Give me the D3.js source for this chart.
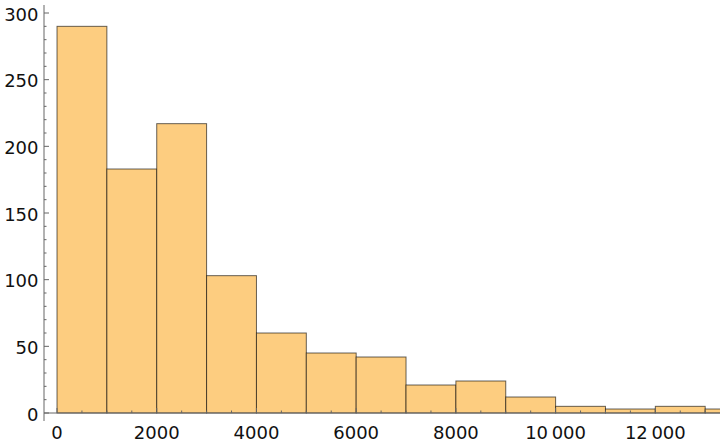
<!DOCTYPE html>
<html><head><meta charset="utf-8">
<script src="https://cdn.jsdelivr.net/npm/d3@7/dist/d3.min.js"></script>
<style>body{margin:0;background:#fff}svg{display:block}</style>
</head><body>
<script>
const binStarts = [0,1000,2000,3000,4000,5000,6000,7000,8000,9000,10000,11000,12000,13000];
const binWidth = 1000;
const counts = [290,183,217,103,60,45,42,21,24,12,5,3,5,3];
const xTickValues = [0,2000,4000,6000,8000,10000,12000];
const xTickLabels = ["0","2000","4000","6000","8000","10\u2009000","12\u2009000"];
const yTickValues = [0,50,100,150,200,250,300];
const yTickLabels = ["0","50","100","150","200","250","300"];

const W = 720, H = 444;
const svg = d3.select("body").append("svg").attr("width", W).attr("height", H);
const x = d3.scaleLinear().domain([-261, 13297]).range([44, 720]);
const y = d3.scaleLinear().domain([-6, 306]).range([421, 5]);

svg.append("clipPath").attr("id","clip").append("rect")
  .attr("x",44).attr("y",0).attr("width",676).attr("height",H);

const data = binStarts.map((s,i)=>({x0:s,x1:s+binWidth,c:counts[i]}));
svg.append("g").attr("clip-path","url(#clip)")
  .selectAll("rect").data(data).join("rect")
  .attr("x", d=>x(d.x0)).attr("width", d=>x(d.x1)-x(d.x0))
  .attr("y", d=>y(d.c)).attr("height", d=>y(0)-y(d.c))
  .attr("fill","#FDCD80")
  .attr("stroke","#000").attr("stroke-opacity",0.6).attr("stroke-width",1);

const axisColor = "#666";
// x axis
const gx = svg.append("g").attr("transform",`translate(0,${y(0)})`);
gx.append("line").attr("x1",44).attr("x2",720).attr("stroke",axisColor);
const xMinor = d3.range(500, 13300, 500).filter(v=>v%2000!==0);
gx.selectAll(".xm").data(xMinor).join("line")
  .attr("x1",d=>x(d)).attr("x2",d=>x(d)).attr("y1",0).attr("y2",-2.5).attr("stroke",axisColor);
gx.selectAll(".xM").data(xTickValues).join("line")
  .attr("x1",d=>x(d)).attr("x2",d=>x(d)).attr("y1",0).attr("y2",-5).attr("stroke",axisColor);
gx.selectAll("text").data(xTickValues).join("text")
  .attr("x",d=>x(d)).attr("y",26).attr("text-anchor","middle")
  .attr("font-family","DejaVu Sans").attr("font-size",18).attr("fill","#111")
  .text((d,i)=>xTickLabels[i]);

// y axis
const gy = svg.append("g").attr("transform",`translate(44,0)`);
gy.append("line").attr("y1",5).attr("y2",421).attr("stroke",axisColor);
const yMinor = d3.range(-0, 306, 10).filter(v=>v%50!==0);
gy.selectAll(".ym").data(yMinor).join("line")
  .attr("y1",d=>y(d)).attr("y2",d=>y(d)).attr("x1",0).attr("x2",2.5).attr("stroke",axisColor);
gy.selectAll(".yM").data(yTickValues).join("line")
  .attr("y1",d=>y(d)).attr("y2",d=>y(d)).attr("x1",0).attr("x2",5).attr("stroke",axisColor);
gy.selectAll("text").data(yTickValues).join("text")
  .attr("x",-5.5).attr("y",d=>y(d)+7.5).attr("text-anchor","end")
  .attr("font-family","DejaVu Sans").attr("font-size",18).attr("fill","#111")
  .text((d,i)=>yTickLabels[i]);
</script>
</body></html>
